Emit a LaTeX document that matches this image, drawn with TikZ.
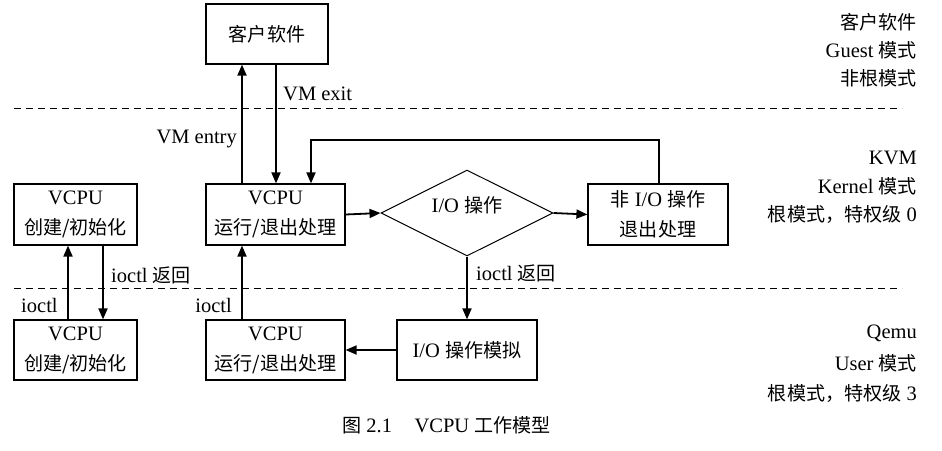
\documentclass[tikz,border=0pt]{standalone}
\usepackage{fontspec}
\setmainfont{Liberation Serif}
\newfontfamily\cjk[Scale=0.93]{Noto Sans CJK SC}
\usetikzlibrary{arrows.meta,shapes.geometric}
\newcommand{\zh}[1]{{\cjk #1}}
\tikzset{
  box/.style={draw, line width=1.2pt, inner sep=0pt, align=center, font=\fontsize{20.5}{30}\selectfont},
  arr/.style={line width=1.8pt, -{Triangle[length=11pt,width=9pt]}},
  sep/.style={line width=0.9pt, dash pattern=on 7pt off 5pt},
  lbl/.style={inner sep=0pt, font=\fontsize{20.5}{23}\selectfont},
}
\begin{document}
\begin{tikzpicture}[x=1pt,y=-1pt]
\useasboundingbox (0,0) rectangle (942,450);
% separators
\coordinate (s1a) at (14,108); \coordinate (s1b) at (902,108);
\coordinate (s2a) at (14,288); \coordinate (s2b) at (902,288);
\draw[sep] (s1a) -- (s1b);
\draw[sep] (s2a) -- (s2b);
% boxes
\node[box, minimum width=122pt, minimum height=60pt] (guest) at (267,34) {\zh{客户软件}};
\node[box, minimum width=139pt, minimum height=61pt] (kvcpu) at (275.5,214.5) {VCPU\\\zh{运行/退出处理}};
\node[box, minimum width=123pt, minimum height=61pt] (kcreate) at (75.5,214.5) {VCPU\\\zh{创建/初始化}};
\node[box, minimum width=140pt, minimum height=61pt] (nonio) at (658,214.5) {\zh{非} I/O \zh{操作}\\\zh{退出处理}};
\node[draw, line width=1pt, shape=diamond, aspect=2, inner sep=0pt, minimum width=172pt, minimum height=86pt] (dia) at (467,213) {};
\node[lbl] (diatext) at ([yshift=8pt]dia.center) {I/O \zh{操作}};
\node[box, minimum width=123pt, minimum height=60pt] (ucreate) at (75.5,350) {VCPU\\\zh{创建/初始化}};
\node[box, minimum width=139pt, minimum height=60pt] (uvcpu) at (275.5,350) {VCPU\\\zh{运行/退出处理}};
\node[box, minimum width=140pt, minimum height=60pt] (ioemu) at (467,350) {I/O \zh{操作模拟}};
% connectors
\coordinate (ea) at ([xshift=-33.5pt]kvcpu.north);
\draw[arr] (ea) -- (ea |- guest.south);
\coordinate (ex) at ([xshift=9pt]guest.south);
\draw[arr] (ex) -- (ex |- kvcpu.north);
\coordinate (fb) at ([xshift=1pt]nonio.north);
\coordinate (fe) at ([xshift=35.5pt]kvcpu.north);
\coordinate (ftop) at (0,140);
\draw[arr] (fb) -- (fb |- ftop) -- (fe |- ftop) -- (fe);
\draw[arr] (kvcpu.east) -- (dia.west);
\draw[arr] (dia.east) -- (nonio.west);
\draw[arr] (dia.south) -- (ioemu.north);
\draw[arr] (ioemu.west) -- (uvcpu.east);
\coordinate (la) at ([xshift=-7.5pt]ucreate.north);
\draw[arr] (la) -- (la |- kcreate.south);
\coordinate (lb) at ([xshift=27.5pt]kcreate.south);
\draw[arr] (lb) -- (lb |- ucreate.north);
\coordinate (ma) at ([xshift=-33.5pt]uvcpu.north);
\draw[arr] (ma) -- (ma |- kvcpu.south);
% connector labels
\node[lbl, anchor=west] (lexit) at (283,94) {VM exit};
\node[lbl, anchor=east] (lentry) at (237,139) {VM entry};
\node[lbl, anchor=west] (lret1) at (111,275) {ioctl \zh{返回}};
\node[lbl, anchor=west] (lio1) at (21,305) {ioctl};
\node[lbl, anchor=east] (lio2) at (232,305) {ioctl};
\node[lbl, anchor=west] (lret2) at (476,273) {ioctl \zh{返回}};
% right column
\node[lbl, anchor=east] (r1) at (917,22) {\zh{客户软件}};
\node[lbl, anchor=east] (r2) at (917,50) {Guest \zh{模式}};
\node[lbl, anchor=east] (r3) at (917,78) {\zh{非根模式}};
\node[lbl, anchor=east] (r4) at (917,158) {KVM};
\node[lbl, anchor=east] (r5) at (917,186) {Kernel \zh{模式}};
\node[lbl, anchor=east] (r6) at (917,214) {\zh{根模式，特权级} 0};
\node[lbl, anchor=east] (r7) at (917,333) {Qemu};
\node[lbl, anchor=east] (r8) at (917,363) {User \zh{模式}};
\node[lbl, anchor=east] (r9) at (917,393) {\zh{根模式，特权级} 3};
% caption
\node[lbl, anchor=west] (cap) at (342,425) {\zh{图} 2.1\hspace{1.1em}VCPU \zh{工作模型}};
\end{tikzpicture}
\end{document}
